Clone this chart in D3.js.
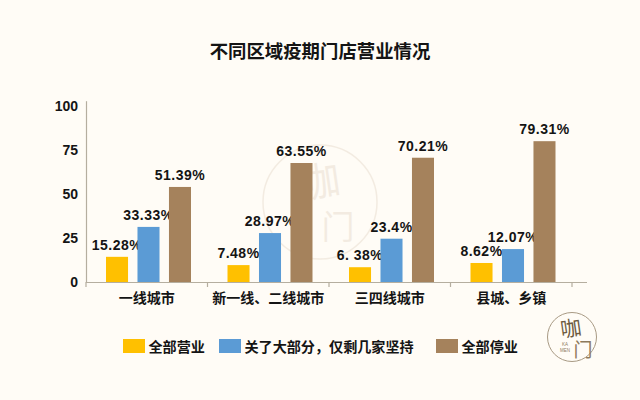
<!DOCTYPE html>
<html>
<head>
<meta charset="utf-8">
<script src="https://cdn.jsdelivr.net/npm/d3@7"></script>
<style>
  html, body { margin: 0; padding: 0; background: #fffcf6; }
  svg { display: block; }
  text { font-family: "Liberation Sans", "Noto Sans CJK SC", sans-serif; fill: #141414; }
  .cjk { font-family: "Noto Sans CJK SC", sans-serif; }
</style>
</head>
<body>
<script>
const categories = ['一线城市', '新一线、二线城市', '三四线城市', '县城、乡镇'];
const seriesNames = ['全部营业', '关了大部分，仅剩几家坚持', '全部停业'];
const seriesColors = ['#ffc000', '#5b9bd5', '#a5825c'];
const yTicks = [0, 25, 50, 75, 100];

// bar heights as drawn, they do not quite agree with the printed labels
const openBars = [14.3, 9.6, 8.4, 10.8];
const partBars = [31.3, 27.8, 24.6, 18.7];
const closedBars = [54, 67.6, 70.6, 80];
const openLabels = ['15.28%', '7.48%', '6. 38%', '8.62%'];
const partLabels = ['33.33%', '28.97%', '23.4%', '12.07%'];
const closedLabels = ['51.39%', '63.55%', '70.21%', '79.31%'];

const seriesBars = [openBars, partBars, closedBars];
const seriesLabels = [openLabels, partLabels, closedLabels];

const width = 640, height = 400;
const svg = d3.select('body').append('svg').attr('width', width).attr('height', height);
svg.append('rect').attr('width', width).attr('height', height).attr('fill', '#fffcf6');

// faint stamp behind the chart
const stamp = svg.append('g').attr('transform', 'translate(320,202)').attr('opacity', 0.13);
stamp.append('circle').attr('r', 57).attr('fill', 'none').attr('stroke', '#a5825c').attr('stroke-width', 1.5);
stamp.append('text').attr('class', 'cjk').attr('text-anchor', 'middle')
  .attr('transform', 'translate(2,-6) rotate(-8)')
  .style('fill', '#a5825c').style('font-size', '40px').style('font-weight', 400).text('咖');
stamp.append('text').attr('class', 'cjk').attr('text-anchor', 'middle')
  .attr('transform', 'translate(18,37)')
  .style('fill', '#a5825c').style('font-size', '33px').style('font-weight', 400).text('门');

const x0 = d3.scaleBand().domain(categories).range([86, 572]);
const x1 = d3.scaleBand().domain(seriesNames).range([20, 105]).paddingInner(0.3);
const y = d3.scaleLinear().domain([0, 103]).range([282, 100.7]);

svg.append('text').attr('class', 'cjk')
  .attr('x', 320).attr('y', 58).attr('text-anchor', 'middle')
  .style('font-size', '18.4px').style('font-weight', 700)
  .text('不同区域疫期门店营业情况');

// axes
const yAxis = svg.append('g').attr('transform', 'translate(86,0)')
  .call(d3.axisLeft(y).tickValues(yTicks).tickSize(0).tickPadding(8));
yAxis.select('.domain').attr('stroke', '#b5ae9f').attr('stroke-width', 1.2);
yAxis.selectAll('text').style('font-size', '14px').style('font-weight', 700)
  .style('font-family', '"Liberation Sans", sans-serif').style('fill', '#141414');

const xAxis = svg.append('g').attr('transform', 'translate(0,282)')
  .call(d3.axisBottom(x0).tickSize(0).tickPadding(11));
xAxis.select('.domain').attr('stroke', '#b5ae9f').attr('stroke-width', 1.2).attr('d', 'M86,0.5H587');
xAxis.selectAll('text').style('font-size', '14px').style('font-weight', 700)
  .style('font-family', '"Noto Sans CJK SC", sans-serif').style('fill', '#141414');
xAxis.selectAll('line.sep')
  .data([...categories.map(c => x0(c)), x0.range()[1]])
  .enter().append('line').attr('class', 'sep')
  .attr('x1', d => d).attr('x2', d => d).attr('y1', 0).attr('y2', 5)
  .attr('stroke', '#b5ae9f').attr('stroke-width', 1.2);

// bars and their labels
seriesNames.forEach((name, i) => {
  const g = svg.append('g');
  g.selectAll('rect').data(categories).enter().append('rect')
    .attr('x', c => x0(c) + x1(name))
    .attr('y', (c, j) => y(seriesBars[i][j]))
    .attr('width', x1.bandwidth())
    .attr('height', (c, j) => y(0) - y(seriesBars[i][j]))
    .attr('fill', seriesColors[i]);
  g.selectAll('text').data(categories).enter().append('text')
    .attr('x', c => x0(c) + x1(name) + x1.bandwidth() / 2)
    .attr('y', (c, j) => y(seriesBars[i][j]) - 7)
    .attr('text-anchor', 'middle')
    .style('font-size', '14px').style('font-weight', 700).style('letter-spacing', '0.5px')
    .text((c, j) => seriesLabels[i][j]);
});

// legend
const legendX = d3.scaleOrdinal().domain(seriesNames).range([123, 219, 436]);
const legend = svg.append('g').selectAll('g').data(seriesNames).enter().append('g')
  .attr('transform', d => `translate(${legendX(d)},339)`);
legend.append('rect').attr('width', 22).attr('height', 14).attr('fill', (d, i) => seriesColors[i]);
legend.append('text').attr('class', 'cjk').attr('x', 25.5).attr('y', 12.5)
  .style('font-size', '14.1px').style('font-weight', 700).text(d => d);

// logo, bottom right
const logo = svg.append('g').attr('transform', 'translate(572,337)');
logo.append('circle').attr('r', 24.5).attr('fill', 'none').attr('stroke', '#a89a84').attr('stroke-width', 1);
logo.append('text').attr('class', 'cjk').attr('text-anchor', 'middle')
  .attr('transform', 'translate(0,-1) rotate(-8)')
  .style('fill', '#6d5a3f').style('font-size', '21px').style('font-weight', 400).text('咖');
logo.append('text').attr('class', 'cjk').attr('text-anchor', 'middle')
  .attr('transform', 'translate(11,20)')
  .style('fill', '#8d7a5c').style('font-size', '19px').style('font-weight', 400).text('门');
logo.append('text').attr('x', -7).attr('y', 9).attr('text-anchor', 'middle')
  .style('fill', '#8d7a5c').style('font-size', '4.5px').text('KA');
logo.append('text').attr('x', -7).attr('y', 15).attr('text-anchor', 'middle')
  .style('fill', '#8d7a5c').style('font-size', '4.5px').text('MEN');
</script>
</body>
</html>
